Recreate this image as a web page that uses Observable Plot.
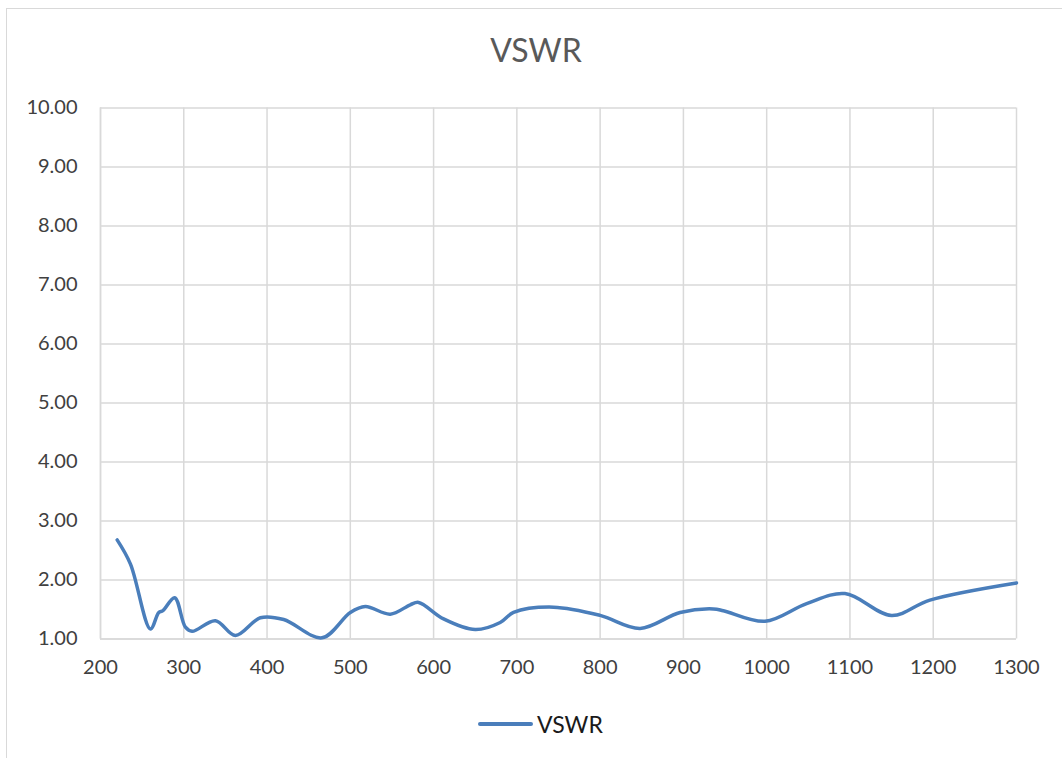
<!DOCTYPE html>
<html>
<head>
<meta charset="utf-8">
<script src="https://cdn.jsdelivr.net/npm/d3@7"></script>
<script src="https://cdn.jsdelivr.net/npm/@observablehq/plot@0.6"></script>
<style>
  html, body { margin: 0; padding: 0; background: #fff; overflow: hidden; width: 1062px; height: 758px; }
  #frame { position: absolute; left: 6px; top: 8px; width: 1100px; height: 800px; border: 1.5px solid #d9d9d9; box-sizing: border-box; }
  #title { position: absolute; left: 0; width: 1072px; top: 30px; text-align: center; font-family: Lato, sans-serif; font-size: 32px; color: #595959; }
  #chart { position: absolute; left: 0; top: 0; }
  #legend { position: absolute; top: 710px; left: 478px; font-family: Lato, sans-serif; font-size: 23px; color: #1a1a1a; display: flex; align-items: center; }
  #legend .sw { width: 55px; height: 4px; background: #4a7ebb; border-radius: 2px; margin-right: 4px; }
</style>
</head>
<body>
<div id="frame"></div>
<div id="title">VSWR</div>
<div id="chart"></div>
<div id="legend"><span class="sw"></span><span>VSWR</span></div>
<script>
const freq = [220, 236, 260, 270, 275, 289, 302, 310, 338, 362, 392, 420, 466, 500, 518, 548, 572, 582, 612, 650, 680, 696, 744, 800, 848, 896, 936, 948, 998, 1048, 1094, 1150, 1196, 1300];
const vswr = [2.68, 2.27, 1.17, 1.45, 1.48, 1.70, 1.20, 1.13, 1.31, 1.06, 1.36, 1.33, 1.02, 1.45, 1.55, 1.42, 1.58, 1.62, 1.34, 1.16, 1.28, 1.45, 1.54, 1.40, 1.18, 1.45, 1.51, 1.48, 1.30, 1.60, 1.77, 1.40, 1.66, 1.95];
const xTicks = [200, 300, 400, 500, 600, 700, 800, 900, 1000, 1100, 1200, 1300];
const yTicks = [1, 2, 3, 4, 5, 6, 7, 8, 9, 10];

const data = freq.map((f, i) => ({f, v: vswr[i]}));
const grid = "#d9d9d9";

const chart = Plot.plot({
  width: 1062,
  height: 700,
  marginLeft: 100,
  marginRight: 46,
  marginTop: 107.5,
  marginBottom: 61.5,
  style: { fontFamily: "Lato, sans-serif", fontSize: "20px", color: "#595959", background: "transparent", overflow: "visible" },
  x: { domain: [200, 1300], ticks: xTicks, label: null },
  y: { domain: [1, 10], ticks: yTicks, label: null },
  marks: [
    Plot.gridX(xTicks, { stroke: grid, strokeOpacity: 1, strokeWidth: 1.5 }),
    Plot.gridY(yTicks, { stroke: grid, strokeOpacity: 1, strokeWidth: 1.5 }),
    Plot.ruleX([200], { stroke: grid, strokeWidth: 1.5 }),
    Plot.ruleY([1], { stroke: grid, strokeWidth: 1.5 }),
    Plot.axisX(xTicks, { tickSize: 0, tickPadding: 21, tickFormat: d => String(d), fill: "#404040" }),
    Plot.axisY(yTicks, { tickSize: 0, tickPadding: 23, tickFormat: d3.format(".2f"), fill: "#404040" }),
    Plot.line(data, { x: "f", y: "v", stroke: "#4a7ebb", strokeWidth: 3.5, curve: "catmull-rom" })
  ]
});
document.getElementById("chart").appendChild(chart);
</script>
</body>
</html>
